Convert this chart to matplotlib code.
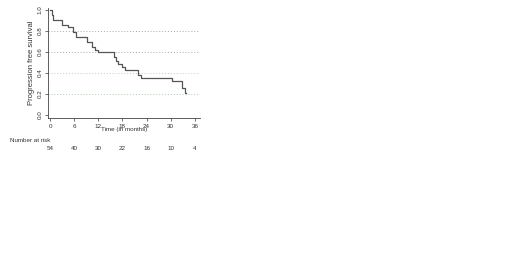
import numpy as np
import matplotlib
matplotlib.use('Agg')
import matplotlib.pyplot as plt
import matplotlib.transforms as mtransforms

plt.rcParams['font.family'] = ['Liberation Sans', 'DejaVu Sans']

# Kaplan-Meier steps (time in months, survival after the step)
times = [0, 0.4, 0.8, 2.9, 4.5, 5.6, 6.4, 9.3, 10.4, 11.1, 11.9, 15.8, 16.3,
         17.0, 17.8, 18.6, 19.4, 21.9, 22.6, 30.3, 32.9, 33.6, 33.7]
surv = [1.0, 0.955, 0.905, 0.857, 0.835, 0.79, 0.74, 0.70, 0.65, 0.62, 0.597,
        0.555, 0.515, 0.483, 0.46, 0.43, 0.43, 0.381, 0.355, 0.324, 0.26, 0.21, 0.21]

risk_times = [0, 6, 12, 18, 24, 30, 36]
at_risk = [54, 40, 30, 22, 16, 10, 4]

grid_levels = [0.2, 0.4, 0.6, 0.8]
grid_colors = ['#9fd49f', '#b9d4b0', '#a8a8a8', '#a8a8a8']

fig = plt.figure(figsize=(5.2, 2.59), dpi=100)
ax = fig.add_axes([48 / 520, 1 - 118 / 259, 152 / 520, 110 / 259])

for lev, c in zip(grid_levels, grid_colors):
    ax.axhline(lev, color=c, linestyle=(0, (1, 2)), linewidth=0.7, zorder=1)

ax.plot(times, surv, drawstyle='steps-post', color='#555555', linewidth=0.9, zorder=3)

ax.set_xlim(-0.5, 37.3)
ax.set_ylim(-0.029, 1.02)
ax.set_xticks(risk_times)
ax.set_yticks([0.0, 0.2, 0.4, 0.6, 0.8, 1.0])
ax.set_yticklabels(['0.0', '0.2', '0.4', '0.6', '0.8', '1.0'], rotation=90, va='center')
ax.tick_params(labelsize=4.5, length=2, width=0.5, pad=2, colors='#333333')
for s in ['top', 'right']:
    ax.spines[s].set_visible(False)
for s in ['left', 'bottom']:
    ax.spines[s].set_linewidth(0.6)
    ax.spines[s].set_color('#444444')

ax.set_ylabel('Progression free survival', fontsize=5.5, color='#333333', labelpad=2)
ax.set_xlabel('Time (in months)', fontsize=4.5, color='#333333', labelpad=-1)

# number at risk table
trans = mtransforms.blended_transform_factory(ax.transData, fig.transFigure)
fig.text(10 / 520, 1 - 140 / 259, 'Number at risk', fontsize=4.5, color='#333333',
         ha='left', va='center')
for t, n in zip(risk_times, at_risk):
    ax.text(t, 1 - 149 / 259, str(n), transform=trans, fontsize=4.5,
            color='#333333', ha='center', va='center')

fig.savefig('out.png', dpi=100)
